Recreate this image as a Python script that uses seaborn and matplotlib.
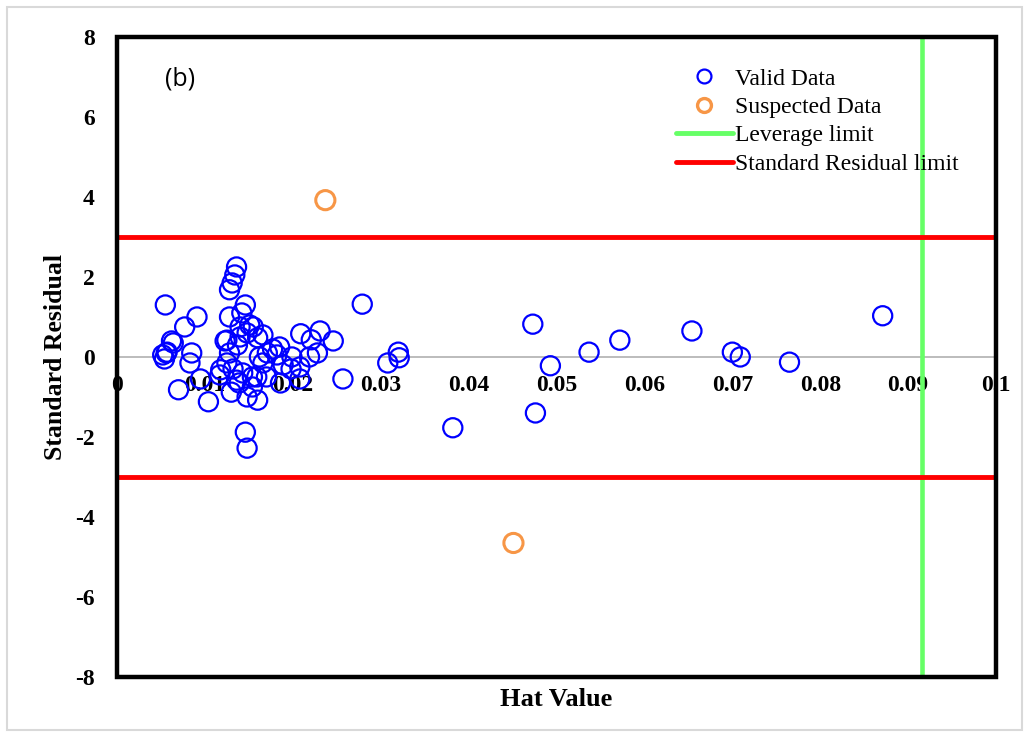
import matplotlib
matplotlib.use("Agg")
import matplotlib.pyplot as plt
from matplotlib.patches import Rectangle
from matplotlib.lines import Line2D
import seaborn as sns
import pandas as pd

# Hat values and standardized residuals of the valid observations
valid_hat = [
    0.0055, 0.0052, 0.0054, 0.0056, 0.0062, 0.0057, 0.0064, 0.0077, 0.0091, 0.0085,
    0.0083, 0.0070, 0.0104, 0.0095,
    0.0136, 0.0134, 0.0131, 0.0128, 0.0146, 0.0142, 0.0128, 0.0151, 0.0155, 0.0140,
    0.0148, 0.0125, 0.0160, 0.0166, 0.0140, 0.0137, 0.0123, 0.0128, 0.0125, 0.0132,
    0.0118, 0.0136, 0.0139, 0.0130, 0.0148, 0.0160, 0.0154, 0.0159, 0.0166, 0.0171,
    0.0177, 0.0185, 0.0162, 0.0182, 0.0189, 0.0198, 0.0186, 0.0170, 0.0154, 0.0143,
    0.0117, 0.0146, 0.0148, 0.0208, 0.0219, 0.0228, 0.0199, 0.0208,
    0.0209, 0.0221, 0.0231, 0.0246, 0.0257, 0.0279, 0.0308, 0.0320, 0.0321,
    0.0382, 0.0473, 0.0476, 0.0493, 0.0537, 0.0572, 0.0654, 0.0700, 0.0709, 0.0765, 0.0871,
]
valid_res = [
    1.30, 0.05, -0.05, 0.10, 0.40, 0.12, 0.35, 0.75, 1.00, 0.10,
    -0.15, -0.82, -1.12, -0.55,
    2.25, 2.05, 1.85, 1.68, 1.30, 1.10, 1.00, 0.80, 0.75, 0.75,
    0.60, 0.42, 0.48, 0.55, 0.50, 0.30, 0.40, 0.10, -0.15, -0.30,
    -0.32, -0.58, -0.65, -0.88, -1.00, -1.08, -0.75, -0.50, -0.15, 0.10,
    0.20, 0.25, 0.00, 0.05, -0.20, -0.30, -0.65, -0.50, -0.50, -0.40,
    -0.45, -1.88, -2.28, -0.25, 0.00, 0.10, 0.00, -0.55,
    0.58, 0.43, 0.65, 0.40, -0.55, 1.32, -0.15, 0.12, -0.02,
    -1.77, 0.82, -1.40, -0.22, 0.12, 0.42, 0.65, 0.12, 0.00, -0.13, 1.03,
]

# Observations flagged as suspected outliers
suspect_hat = [0.0237, 0.0451]
suspect_res = [3.92, -4.65]

# Warning limits
leverage_limit = 0.0916
residual_limit = 3.0

x_ticks = [0, 0.01, 0.02, 0.03, 0.04, 0.05, 0.06, 0.07, 0.08, 0.09, 0.1]
x_tick_labels = ["0", "0.01", "0.02", "0.03", "0.04", "0.05", "0.06", "0.07", "0.08", "0.09", "0.1"]
y_ticks = [-8, -6, -4, -2, 0, 2, 4, 6, 8]

sns.set_theme(style="white")
plt.rcParams["font.family"] = ["Liberation Serif", "DejaVu Serif"]
plt.rcParams["text.color"] = "black"
plt.rcParams["axes.labelcolor"] = "black"
plt.rcParams["xtick.color"] = "black"
plt.rcParams["ytick.color"] = "black"

valid = pd.DataFrame({"hat": valid_hat, "res": valid_res})
suspect = pd.DataFrame({"hat": suspect_hat, "res": suspect_res})

fig = plt.figure(figsize=(10.29, 7.36), dpi=100)
ax = fig.add_axes([0.1137, 0.0802, 0.8543, 0.8696])

blue = "#0000ff"
orange = "#f79646"
green = "#66ff66"
red = "#ff0000"

sns.scatterplot(data=valid, x="hat", y="res", ax=ax, marker="o", s=190,
                facecolor="none", edgecolor=blue, linewidth=1.6, zorder=4)
sns.scatterplot(data=suspect, x="hat", y="res", ax=ax, marker="o", s=190,
                facecolor="none", edgecolor=orange, linewidth=2.2, zorder=4)

ax.axvline(leverage_limit, color=green, lw=3.3, zorder=3)
ax.axhline(residual_limit, color=red, lw=3.5, zorder=3)
ax.axhline(-residual_limit, color=red, lw=3.5, zorder=3)

ax.set_xlim(0, 0.1)
ax.set_ylim(-8, 8)
ax.set_xticks(x_ticks)
ax.set_xticklabels(x_tick_labels)
ax.set_yticks(y_ticks)
ax.set_yticklabels([str(v) for v in y_ticks])

# horizontal axis crosses at zero
ax.spines["bottom"].set_position(("data", 0))
ax.spines["bottom"].set_color("#b0b0b0")
ax.spines["bottom"].set_linewidth(1.2)
ax.spines["bottom"].set_zorder(2)
ax.spines["top"].set_visible(False)
ax.spines["right"].set_visible(False)
ax.spines["left"].set_color("black")
ax.spines["left"].set_linewidth(1.5)

ax.tick_params(axis="both", length=0, labelsize=17)
ax.tick_params(axis="x", pad=13)
ax.tick_params(axis="y", pad=16)
for lab in ax.get_xticklabels() + ax.get_yticklabels():
    lab.set_fontweight("bold")
    lab.set_zorder(5)

ax.set_xlabel("")
ax.set_ylabel("")
fig.text(0.5405, 0.049, "Hat Value", ha="center", va="center",
         fontsize=19, fontweight="bold")
fig.text(0.054, 0.515, "Standard Residual", ha="center", va="center",
         rotation=90, fontsize=18.5, fontweight="bold")

# heavy frame around the plot area
ax.add_patch(Rectangle((0, 0), 1, 1, transform=ax.transAxes, fill=False,
                       edgecolor="black", lw=3.2, clip_on=False, zorder=6))

ax.text(0.0717, 0.934, "(b)", transform=ax.transAxes, ha="center", va="center",
        fontsize=18, family=["Open Sans", "DejaVu Sans"])

handles = [
    Line2D([], [], marker="o", ls="none", markersize=10, markerfacecolor="none",
           markeredgecolor=blue, markeredgewidth=1.6),
    Line2D([], [], marker="o", ls="none", markersize=10, markerfacecolor="none",
           markeredgecolor=orange, markeredgewidth=2.4),
    Line2D([], [], color=green, lw=3.5),
    Line2D([], [], color=red, lw=3.5),
]
labels = ["Valid Data", "Suspected Data", "Leverage limit", "Standard Residual limit"]
leg = ax.legend(handles, labels, loc="upper left", bbox_to_anchor=(0.625, 0.966),
                frameon=False, fontsize=17, handlelength=2.4, handletextpad=0.1,
                labelspacing=0.29, borderaxespad=0)
leg.set_zorder(7)

# light outer border of the figure
fig.patches.append(Rectangle((0.007, 0.008), 0.986, 0.982, transform=fig.transFigure,
                             fill=False, edgecolor="#d9d9d9", lw=1.5))

fig.savefig("out.png", dpi=100)
